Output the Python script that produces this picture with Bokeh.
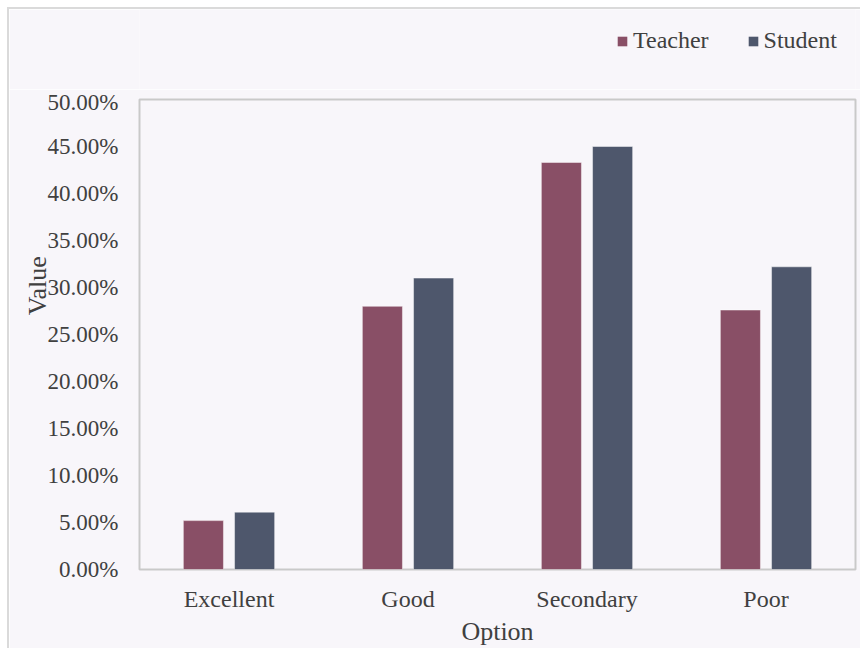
from bokeh.plotting import figure
from bokeh.layouts import column
from bokeh.models import (ColumnDataSource, FactorRange, Range1d, NumeralTickFormatter,
                          SingleIntervalTicker, Legend, LegendItem)
from bokeh.transform import dodge
from bokeh.embed import file_html
from bokeh.resources import INLINE

categories = ["Excellent", "Good", "Secondary", "Poor"]
teacher = [0.052, 0.280, 0.433, 0.276]
student = [0.061, 0.310, 0.450, 0.322]
series_names = ["Teacher", "Student"]
y_ticks_step = 0.05

BG = "#f8f6fa"
TEACHER_C = "#894f66"
STUDENT_C = "#4e576c"
TEXT_C = "#404040"
FONT = "Liberation Serif"

src = ColumnDataSource(dict(cat=categories, teacher=teacher, student=student))

# legend strip on top (frames of a column are aligned, so its frame starts where the chart's does)
lg = figure(width=851, height=80, x_range=Range1d(0, 1), y_range=Range1d(0, 1),
            x_axis_type=None, y_axis_type=None, output_backend="svg", toolbar_location=None,
            min_border=0, min_border_left=130, min_border_right=5)
lg.background_fill_color = BG
lg.border_fill_color = BG
lg.outline_line_color = None
lg.xgrid.visible = False
lg.ygrid.visible = False
d1 = lg.vbar(x=[-10], top=[0], bottom=[0], width=0.1, fill_color=TEACHER_C, line_color=None)
d2 = lg.vbar(x=[-10], top=[0], bottom=[0], width=0.1, fill_color=STUDENT_C, line_color=None)
legend = Legend(items=[LegendItem(label=series_names[0], renderers=[d1]),
                       LegendItem(label=series_names[1], renderers=[d2])],
                orientation="horizontal", location=(477, 35),
                glyph_width=12, glyph_height=12, label_standoff=5, spacing=38,
                padding=0, margin=0, border_line_color=None, background_fill_alpha=0,
                label_text_font=FONT, label_text_font_size="24px", label_text_color=TEXT_C)
lg.add_layout(legend, "center")

p = figure(x_range=FactorRange(*categories, range_padding=0), y_range=Range1d(0, 0.5),
           width=851, height=559, output_backend="svg", toolbar_location=None,
           min_border_left=130, min_border_top=10, min_border_right=5, min_border_bottom=78)
p.background_fill_color = BG
p.border_fill_color = BG
p.outline_line_color = "#c9c9c9"
p.outline_line_width = 2
p.xgrid.visible = False
p.ygrid.visible = False

r1 = p.vbar(x=dodge("cat", -0.143, range=p.x_range), top="teacher", width=0.224, source=src,
            fill_color=TEACHER_C, line_color="white", line_alpha=0.45, line_width=1)
r2 = p.vbar(x=dodge("cat", 0.143, range=p.x_range), top="student", width=0.224, source=src,
            fill_color=STUDENT_C, line_color="white", line_alpha=0.45, line_width=1)

p.yaxis.ticker = SingleIntervalTicker(interval=y_ticks_step)
p.yaxis.formatter = NumeralTickFormatter(format="0.00%")
for ax in (p.xaxis[0], p.yaxis[0]):
    ax.axis_line_color = None
    ax.major_tick_line_color = None
    ax.minor_tick_line_color = None
    ax.major_tick_out = 0
    ax.minor_tick_out = 0
    ax.major_label_text_font = FONT
    ax.major_label_text_color = TEXT_C
    ax.axis_label_text_font = FONT
    ax.axis_label_text_color = TEXT_C
    ax.axis_label_text_font_style = "normal"
p.yaxis.major_label_text_font_size = "23px"
p.yaxis.major_label_standoff = 21
p.yaxis.axis_label = "\u00a0" * 15 + "Value"
p.yaxis.axis_label_text_font_size = "26px"
p.yaxis.axis_label_standoff = -7
p.xaxis.major_label_text_font_size = "24px"
p.xaxis.major_label_standoff = 16
p.xaxis.axis_label = "Option"
p.xaxis.axis_label_text_font_size = "26px"
p.xaxis.axis_label_standoff = 2

layout = column(lg, p, spacing=0)
layout.styles = {"margin-left": "7px", "margin-top": "7px",
                 "border-left": "2px solid #dadada", "border-top": "2px solid #dadada"}

open("out.html", "w").write(file_html(layout, INLINE))
